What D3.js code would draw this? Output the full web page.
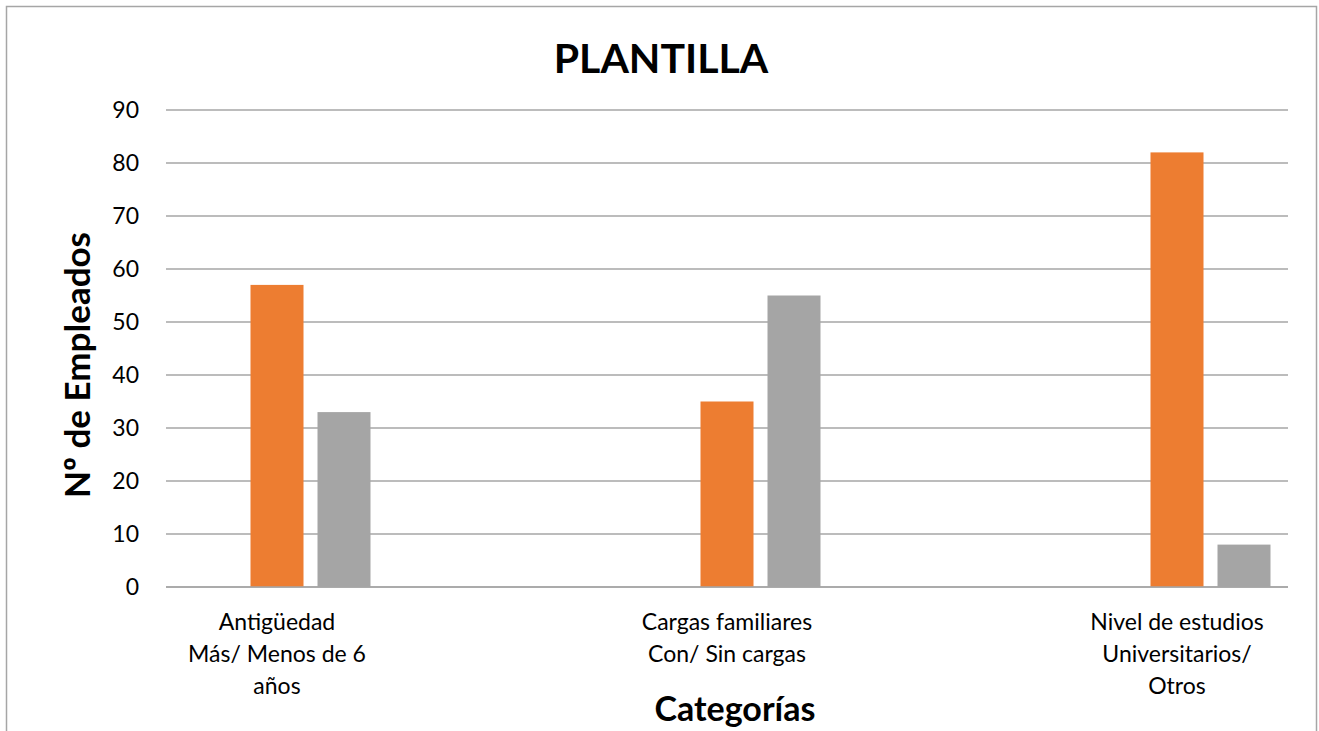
<!DOCTYPE html>
<html>
<head>
<meta charset="utf-8">
<script src="https://cdn.jsdelivr.net/npm/d3@7"></script>
<style>
  body { margin: 0; background: #fff; }
  svg { display: block; }
</style>
</head>
<body>
<svg id="chart" width="1319" height="731"></svg>
<script>
const categories = [
  ["Antigüedad", "Más/ Menos de 6", "años"],
  ["Cargas familiares", "Con/ Sin cargas"],
  ["Nivel de estudios", "Universitarios/", "Otros"]
];
const catKeys = ["Antigüedad", "Cargas familiares", "Nivel de estudios"];
const seriesNames = ["Serie 1", "Serie 2", "Serie 3"];
const serie1 = [0, 0, 0];
const serie2 = [57, 35, 82];
const serie3 = [33, 55, 8];
const colors = ["#4472C4", "#ED7D31", "#A5A5A5"];
const yTicks = [0, 10, 20, 30, 40, 50, 60, 70, 80, 90];

const fontFamily = "Lato, 'Open Sans', sans-serif";
const svg = d3.select("#chart").attr("font-family", fontFamily);

const plot = {left: 166, right: 1288, top: 110, bottom: 587};

// chart border
svg.append("rect")
  .attr("x", 6.5).attr("y", 6.5)
  .attr("width", 1310).attr("height", 740)
  .attr("fill", "#fff").attr("stroke", "#a6a6a6").attr("stroke-width", 1.5);

const y = d3.scaleLinear().domain([0, 90]).range([plot.bottom, plot.top]);
const x0 = d3.scaleBand().domain(catKeys).range([52, 1402]);
const x1 = d3.scaleBand().domain(seriesNames).range([131.5, 318.5]).paddingInner(14 / 67);

// gridlines
svg.append("g")
  .selectAll("line")
  .data(yTicks)
  .join("line")
    .attr("x1", plot.left).attr("x2", plot.right)
    .attr("y1", d => y(d)).attr("y2", d => y(d))
    .attr("stroke", "#a6a6a6").attr("stroke-width", 1.5);

// y tick labels
svg.append("g")
  .selectAll("text")
  .data(yTicks)
  .join("text")
    .attr("x", 139).attr("y", d => y(d))
    .attr("dy", "0.35em")
    .attr("text-anchor", "end")
    .attr("font-size", 23)
    .attr("fill", "#000")
    .text(d => d);

// bars
svg.append("defs").append("clipPath").attr("id", "clip")
  .append("rect")
  .attr("x", plot.left).attr("y", 0)
  .attr("width", plot.right - plot.left).attr("height", plot.bottom);

const rows = catKeys.map((k, i) => ({
  cat: k,
  vals: [serie1[i], serie2[i], serie3[i]].map((v, j) => ({key: seriesNames[j], v, c: colors[j]}))
}));

svg.append("g")
  .attr("clip-path", "url(#clip)")
  .selectAll("g")
  .data(rows)
  .join("g")
    .attr("transform", d => `translate(${x0(d.cat)},0)`)
  .selectAll("rect")
  .data(d => d.vals.filter(e => e.v > 0))
  .join("rect")
    .attr("x", d => x1(d.key))
    .attr("width", x1.bandwidth())
    .attr("y", d => y(d.v))
    .attr("height", d => y(0) - y(d.v))
    .attr("fill", d => d.c);

// redraw baseline on top
svg.append("line")
  .attr("x1", plot.left).attr("x2", plot.right)
  .attr("y1", y(0)).attr("y2", y(0))
  .attr("stroke", "#a6a6a6").attr("stroke-width", 1.5);

// category labels, centered on the second series
const labels = svg.append("g")
  .selectAll("text")
  .data(categories)
  .join("text")
    .attr("text-anchor", "middle")
    .attr("font-size", 23)
    .attr("fill", "#000")
    .attr("x", (d, i) => x0(catKeys[i]) + x1("Serie 2") + x1.bandwidth() / 2)
    .attr("y", 630);
labels.selectAll("tspan")
  .data(d => d)
  .join("tspan")
    .attr("x", function() { return this.parentNode.getAttribute("x"); })
    .attr("dy", (d, i) => i === 0 ? 0 : 32)
    .text(d => d);

// titles
svg.append("text")
  .attr("x", 661).attr("y", 73)
  .attr("text-anchor", "middle")
  .attr("font-size", 41).attr("font-weight", "bold")
  .text("PLANTILLA");

svg.append("text")
  .attr("x", 735).attr("y", 721)
  .attr("text-anchor", "middle")
  .attr("font-size", 34).attr("font-weight", "bold")
  .text("Categorías");

svg.append("text")
  .attr("transform", "translate(90,365) rotate(-90)")
  .attr("text-anchor", "middle")
  .attr("font-size", 35).attr("font-weight", "bold")
  .text("Nº de Empleados");
</script>
</body>
</html>
